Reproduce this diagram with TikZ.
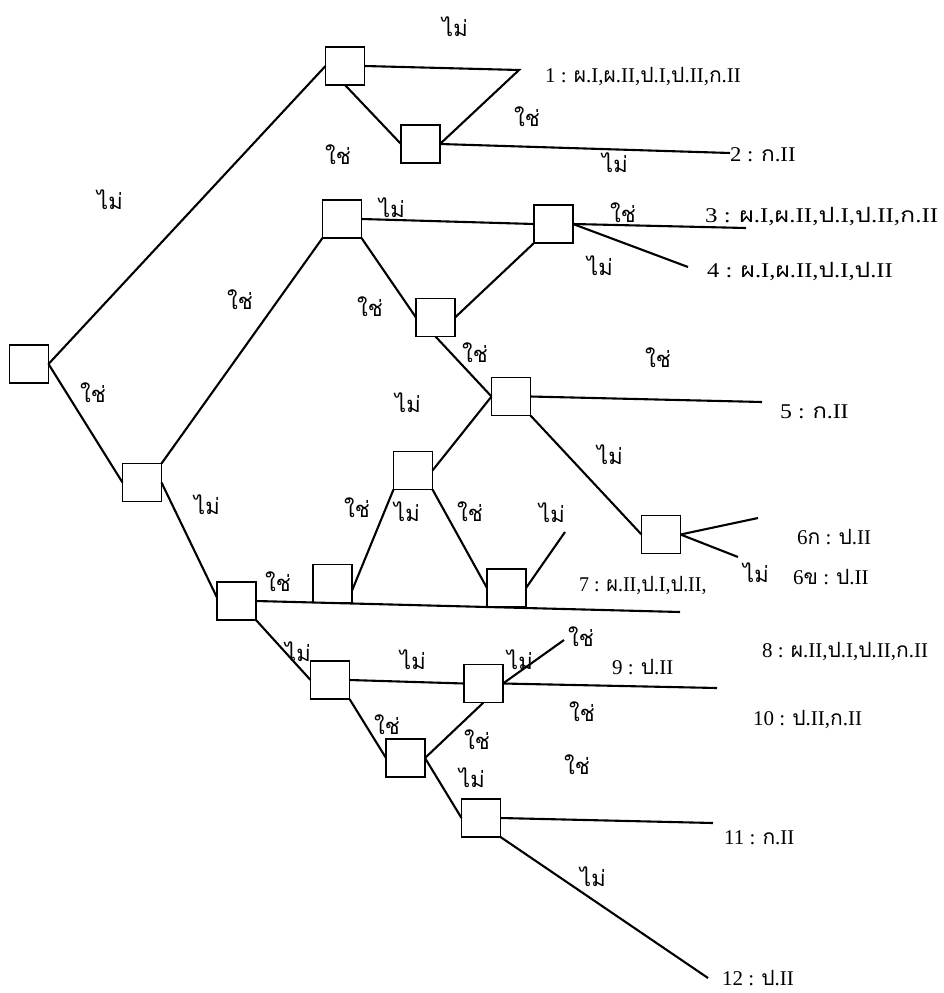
\documentclass[tikz,border=0pt]{standalone}
\usepackage{fontspec}
\setmainfont{Liberation Serif}
\newfontfamily\thaifont[Script=Thai]{Loma}
\newcommand{\thx}[1]{{\thaifont #1}}
\begin{document}
\begin{tikzpicture}[x=1pt,y=-1pt,
  box/.style={draw, line width=1.7pt, minimum width=39pt, minimum height=38pt, inner sep=0pt, outer sep=0pt},
  edge/.style={line width=2.1pt},
  ans/.style={font=\thaifont\fontsize{22}{24}\selectfont, inner sep=0pt},
  outcome/.style={font=\fontsize{21}{24}\selectfont, anchor=west, inner sep=0pt}]
\useasboundingbox (0,0) rectangle (944,993);

% decision boxes
\node[box] (A) at (29,364) {};
\node[box] (B) at (345,66) {};
\node[box] (C) at (420.5,144) {};
\node[box] (D) at (342,219) {};
\node[box] (E) at (553.5,224) {};
\node[box] (F) at (435.5,317.5) {};
\node[box] (G) at (511,396.5) {};
\node[box] (H) at (142,482.5) {};
\node[box] (I) at (413,470.5) {};
\node[box] (J) at (661,534.5) {};
\node[box] (K) at (236.5,601) {};
\node[box] (L) at (332.5,583.5) {};
\node[box] (M) at (506.5,588) {};
\node[box] (N) at (330,680) {};
\node[box] (O) at (483.5,683.5) {};
\node[box] (P) at (405.5,758) {};
\node[box] (Q) at (481,818) {};

% free branch ends
\coordinate (t1) at (519,70);
\coordinate (e2) at (730,153);
\coordinate (e3) at (746,228);
\coordinate (e4) at (688,267);
\coordinate (e5) at (762,402);
\coordinate (e6a) at (758,518);
\coordinate (e6b) at (738,557);
\coordinate (e7) at (680,612);
\coordinate (mEnd) at (565,532);
\coordinate (oUp) at (564,640);
\coordinate (e9) at (717,688);
\coordinate (e11) at (713,823);
\coordinate (e12) at (708,978);

% branches
\draw[edge] (A.east) -- (B.west);
\draw[edge] (A.east) -- (H.west);
\draw[edge] (B.east) -- (t1) -- (C.east);
\draw[edge] (B.south) -- (C.west);
\draw[edge] (C.east) -- (e2);
\draw[edge] (H.north east) -- (D.south west);
\draw[edge] (H.east) -- (K.170);
\draw[edge] (D.east) -- (E.west);
\draw[edge] (D.south east) -- (F.west);
\draw[edge] (F.east) -- (E.south west);
\draw[edge] (E.east) -- (e3);
\draw[edge] (E.east) -- (e4);
\draw[edge] (F.south) -- (G.west);
\draw[edge] (G.east) -- (e5);
\draw[edge] (G.south east) -- (J.west);
\draw[edge] (J.east) -- (e6a);
\draw[edge] (J.east) -- (e6b);
\draw[edge] (I.east) -- (G.west);
\draw[edge] (L.-20) -- (I.south west);
\draw[edge] (I.south east) -- (M.west);
\draw[edge] (M.east) -- (mEnd);
\draw[edge] (K.east) -- (e7);
\draw[edge] (K.south east) -- (N.west);
\draw[edge] (N.east) -- (O.west);
\draw[edge] (N.south east) -- (P.west);
\draw[edge] (P.east) -- (O.south);
\draw[edge] (P.east) -- (Q.west);
\draw[edge] (O.east) -- (oUp);
\draw[edge] (O.east) -- (e9);
\draw[edge] (Q.east) -- (e11);
\draw[edge] (Q.south east) -- (e12);

% yes / no answers
\node[ans] (a1) at (455,27) {ไม่};
\node[ans] (a2) at (527,117) {ใช่};
\node[ans] (a3) at (338,155) {ใช่};
\node[ans] (a4) at (615,163) {ไม่};
\node[ans] (a5) at (110,200) {ไม่};
\node[ans] (a6) at (392,208) {ไม่};
\node[ans] (a7) at (623,213) {ใช่};
\node[ans] (a8) at (600,266) {ไม่};
\node[ans] (a9) at (240,300) {ใช่};
\node[ans] (a10) at (370,307) {ใช่};
\node[ans] (a11) at (475,353) {ใช่};
\node[ans] (a12) at (658,358) {ใช่};
\node[ans] (a13) at (93,393) {ใช่};
\node[ans] (a14) at (408,403) {ไม่};
\node[ans] (a15) at (610,455) {ไม่};
\node[ans] (a16) at (207,505) {ไม่};
\node[ans] (a17) at (357,508) {ใช่};
\node[ans] (a18) at (407,512) {ไม่};
\node[ans] (a19) at (470,512) {ใช่};
\node[ans] (a20) at (552,513) {ไม่};
\node[ans] (a21) at (756,573) {ไม่};
\node[ans] (a22) at (278,582) {ใช่};
\node[ans] (a23) at (581,637) {ใช่};
\node[ans] (a24) at (298,652) {ไม่};
\node[ans] (a25) at (413,660) {ไม่};
\node[ans] (a26) at (520,660) {ไม่};
\node[ans] (a27) at (582,712) {ใช่};
\node[ans] (a28) at (387,725) {ใช่};
\node[ans] (a29) at (477,740) {ใช่};
\node[ans] (a30) at (577,765) {ใช่};
\node[ans] (a31) at (472,778) {ไม่};
\node[ans] (a32) at (593,877) {ไม่};

% outcomes
\node[outcome] (o1) at (545,77) {1 : \thx{ผ}.I,\thx{ผ}.II,\thx{ป}.I,\thx{ป}.II,\thx{ก}.II};
\node[outcome, xscale=1.08] (o2) at (730,155) {2 : \thx{ก}.II};
\node[outcome, xscale=1.19] (o3) at (705,217) {3 : \thx{ผ}.I,\thx{ผ}.II,\thx{ป}.I,\thx{ป}.II,\thx{ก}.II};
\node[outcome, xscale=1.17] (o4) at (707,272) {4 : \thx{ผ}.I,\thx{ผ}.II,\thx{ป}.I,\thx{ป}.II};
\node[outcome, xscale=1.13] (o5) at (780,412) {5 : \thx{ก}.II};
\node[outcome] (o6a) at (797,537) {6\thx{ก} : \thx{ป}.II};
\node[outcome] (o6b) at (793,577) {6\thx{ข} : \thx{ป}.II};
\node[outcome, xscale=0.95] (o7) at (579,586) {7 : \thx{ผ}.II,\thx{ป}.I,\thx{ป}.II,};
\node[outcome] (o8) at (762,652) {8 : \thx{ผ}.II,\thx{ป}.I,\thx{ป}.II,\thx{ก}.II};
\node[outcome] (o9) at (612,667) {9 : \thx{ป}.II};
\node[outcome] (o10) at (753,720) {10 : \thx{ป}.II,\thx{ก}.II};
\node[outcome] (o11) at (724,838) {11 : \thx{ก}.II};
\node[outcome] (o12) at (722,978) {12 : \thx{ป}.II};
\end{tikzpicture}
\end{document}
